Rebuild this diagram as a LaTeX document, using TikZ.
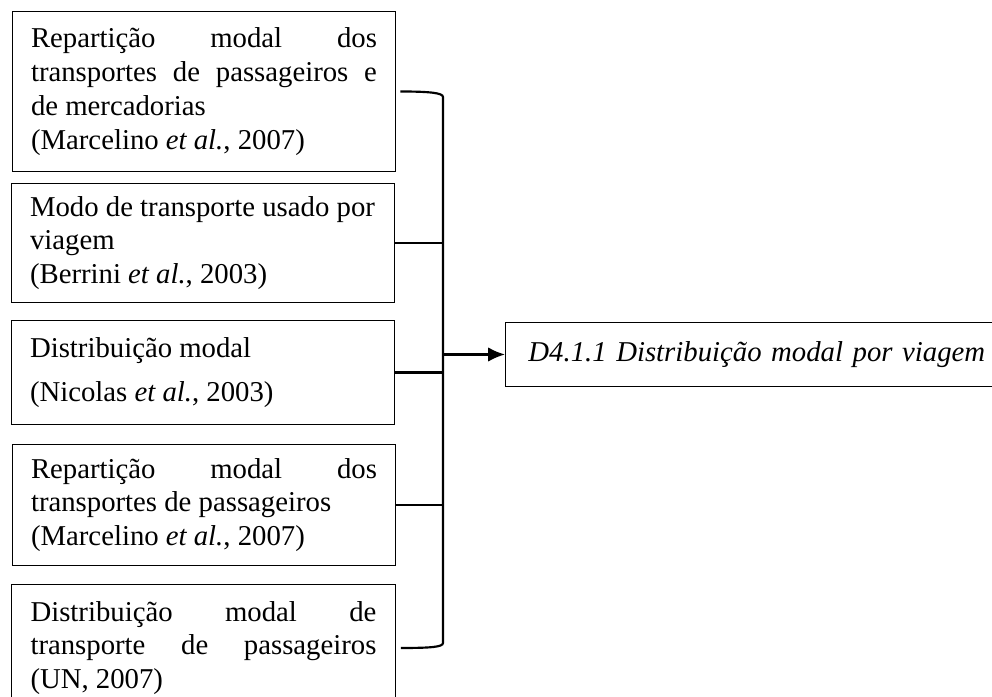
\documentclass[tikz,border=0pt]{standalone}
\usepackage{fontspec}
\setmainfont{Liberation Serif}
\usetikzlibrary{calc,arrows.meta}

\begin{document}
\def\px{0.4174pt} % one pixel of the layout
\begin{tikzpicture}[
  x=\px, y=-\px,
  every node/.style={font=\fontsize{12}{14.1}\selectfont},
  source/.style={draw, thin, align=justify, text width=144.4pt, inner xsep=7.9pt, inner ysep=0pt},
  target/.style={draw, thin, anchor=west, align=left, text width=191.6pt, inner xsep=9.6pt, minimum height=27.1pt},
  brace/.style={line width=0.9pt},
  result/.style={brace,-{Latex[length=7pt,width=6pt]}},
]
\useasboundingbox (0,0) rectangle (992,697);
\clip (0,0) rectangle (992,697);

%sources
\node[source, minimum height=66.4pt] (b1) at (204,91.5)
  {Repartição modal dos\linebreak transportes de passageiros e\linebreak de mercadorias\\(Marcelino \textit{et al.}, 2007)};
\node[source, minimum height=49.3pt] (b2) at (203,243)
  {Modo de transporte usado por\\viagem\\(Berrini \textit{et al.}, 2003)};
\node[source, minimum height=43.8pt] (b3) at (203,372.5)
  {Distribuição modal\\[4.5pt](Nicolas \textit{et al.}, 2003)};
\node[source, minimum height=50.9pt] (b4) at (204,505)
  {Repartição modal dos\linebreak transportes de passageiros\\(Marcelino \textit{et al.}, 2007)};
\node[source, minimum height=53.4pt] (b5) at (203.5,648)
  {Distribuição modal de\linebreak transporte de passageiros\linebreak (UN, 2007)};

%indicator
\node[target] (out) at (505,354.5) {\textit{D4.1.1 Distribuição modal por viagem}};

%bracket
\coordinate (t1) at ($(b1.east)+(4,0)$);
\coordinate (t5) at ($(b5.east)+(5,0)$);
\coordinate (sptop) at (443,97);
\coordinate (spbot) at (443,643);
\draw[brace] (t1) .. controls +(30,0) and +(0,-4) .. (sptop) -- (spbot) .. controls +(0,4) and +(30,0) .. (t5);
\draw[brace] (b2.east) -- (b2.east -| sptop);
\draw[brace] (b3.east) -- (b3.east -| sptop);
\draw[brace] (b4.east) -- (b4.east -| sptop);
\draw[result] (sptop |- out.west) -- (out.west);

\end{tikzpicture}
\end{document}
